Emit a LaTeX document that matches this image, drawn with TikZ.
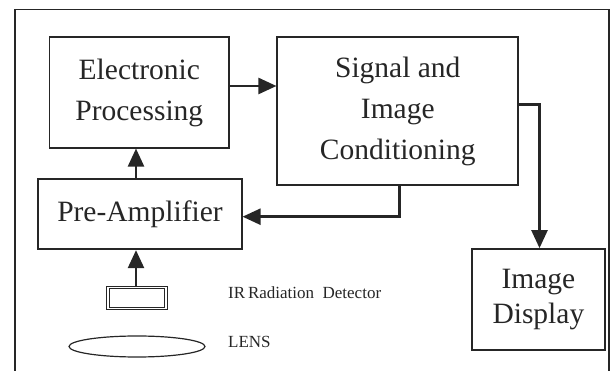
\documentclass[tikz,border=0pt]{standalone}
\usepackage{fontspec}
\setmainfont{Liberation Serif}
\usetikzlibrary{arrows.meta,shapes.geometric}
\definecolor{linec}{HTML}{262626}
\begin{document}
\begin{tikzpicture}[x=1pt,y=-1pt,
  box/.style={draw=linec, line width=1.7pt, inner sep=0pt, align=center, text=linec, font=\fontsize{29.5}{41}\selectfont},
  conn/.style={draw=linec, line width=2.4pt, -{Triangle[length=18pt,width=16pt]}},
  lbl/.style={anchor=base west, inner sep=0pt, text=linec, font=\fontsize{17}{18}\selectfont},
]
\useasboundingbox (0,0) rectangle (611,371);
\draw[linec, line width=1.5pt] (15,9.5) rectangle (609,390);

\node[box, minimum width=179.5pt, minimum height=110.4pt] (ep) at (139.3,92.5) {Electronic\\Processing};
\node[box, minimum width=241pt, minimum height=147.7pt] (sic) at (397.8,111.2) {Signal and\\Image\\Conditioning};
\node[box, minimum width=203.4pt, minimum height=70pt] (pa) at (140,214.3) {Pre-Amplifier};
\node[box, minimum width=132.8pt, minimum height=101pt, font=\fontsize{29.5}{35}\selectfont] (id) at (538.4,299.5) {Image\\Display};

\node[draw=linec, double, double distance=1.2pt, line width=1.3pt, minimum width=58pt, minimum height=21pt, inner sep=0pt] (det) at (137,298) {};
\node[draw=linec, ellipse, line width=1.2pt, minimum width=136pt, minimum height=21pt, inner sep=0pt] (lens) at (137,346.5) {};

\node[lbl] (irl) at (228,299) {IR\,Radiation\ \ Detector};
\node[lbl] (lensl) at (228,348) {LENS};

\draw[conn] (ep.east |- 0,86) -- (sic.west |- 0,86);
\draw[conn] (pa.north -| 136,0) -- (ep.south -| 136,0);
\draw[conn] (det.north -| 136,0) -- (pa.south -| 136,0);
\coordinate (c1) at (399.5,216.7);
\draw[conn] (sic.south -| c1) -- (c1) -- (pa.east |- c1);
\coordinate (c2) at (539.5,104.5);
\draw[conn] (sic.east |- c2) -- (c2) -- (id.north -| c2);
\end{tikzpicture}
\end{document}
